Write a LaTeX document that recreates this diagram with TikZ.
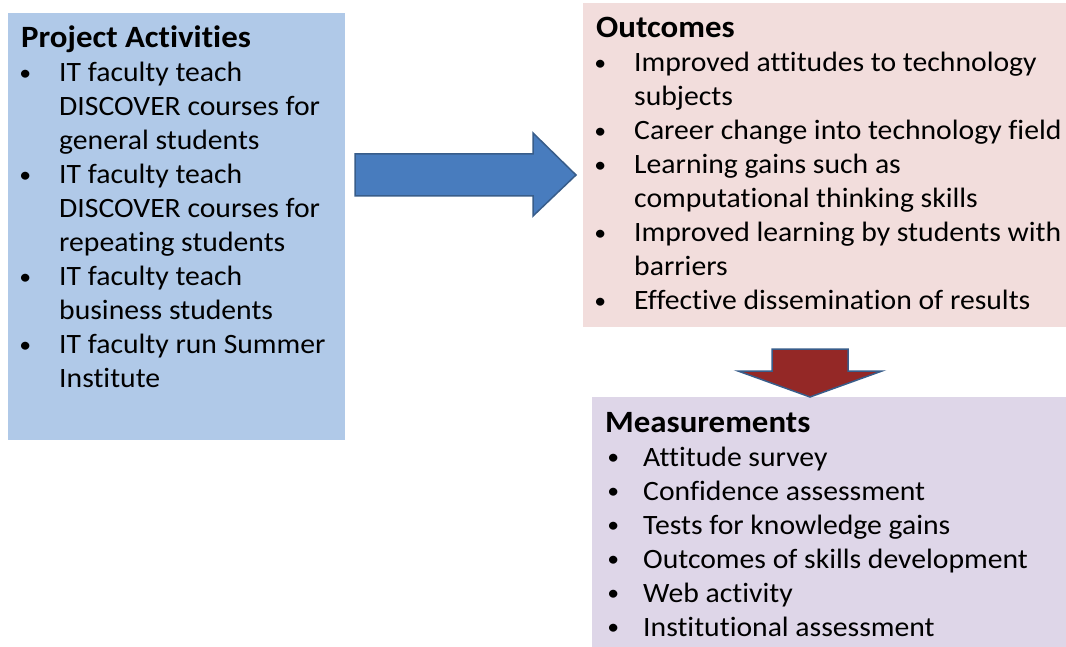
\documentclass[tikz,border=0pt]{standalone}
\usepackage{fontspec}
\setmainfont{Carlito}[Ligatures={NoCommon}, FakeStretch=1.06]
\definecolor{actblue}{RGB}{176,201,232}
\definecolor{outpink}{RGB}{242,221,220}
\definecolor{measlav}{RGB}{222,214,232}
\definecolor{arrblue}{RGB}{72,124,190}
\definecolor{arrline}{RGB}{56,93,138}
\definecolor{arrred}{RGB}{148,40,38}
\newlength\bulx
\newcommand\blt{\makebox[0pt]{\raisebox{1.2pt}{\scalebox{0.8}{•}}}}
\newcommand\itm[1]{\makebox[38pt][l]{\hspace*{\bulx}\blt}#1}
\newcommand\cnt[1]{\hspace*{38pt}#1}
\newcommand\ttl[1]{{\fontsize{31}{34}\selectfont\bfseries #1}}
\tikzset{
  panel/.style={draw=none, inner sep=0, anchor=north west},
  txt/.style={anchor=base west, inner sep=0, font=\fontsize{28}{34}\selectfont},
  blockarrow/.style={draw=arrline, line width=1.5pt, line join=miter}
}
\begin{document}
\begin{tikzpicture}[x=1pt,y=-1pt]
\useasboundingbox (0,0) rectangle (1066,647);
\fill[white] (0,0) rectangle (1066,647);
% panels
\node[panel, fill=actblue, minimum width=337pt, minimum height=427pt] (act) at (8,13) {};
\node[panel, fill=outpink, minimum width=483pt, minimum height=324pt] (out) at (583,3) {};
\node[panel, fill=measlav, minimum width=474pt, minimum height=250pt] (meas) at (592,397) {};
% texts
\node[txt] (acttxt) at (21,48) {\parbox[t]{330pt}{\setlength\bulx{4pt}%
\ttl{Project Activities}\\
\itm{IT faculty teach}\\
\cnt{DISCOVER courses for}\\
\cnt{general students}\\
\itm{IT faculty teach}\\
\cnt{DISCOVER courses for}\\
\cnt{repeating students}\\
\itm{IT faculty teach}\\
\cnt{business students}\\
\itm{IT faculty run Summer}\\
\cnt{Institute}}};
\node[txt] (outtxt) at (596,38) {\parbox[t]{470pt}{\setlength\bulx{4pt}%
\ttl{Outcomes}\\
\itm{Improved attitudes to technology}\\
\cnt{subjects}\\
\itm{Career change into technology field}\\
\itm{Learning gains such as}\\
\cnt{computational thinking skills}\\
\itm{Improved learning by students with}\\
\cnt{barriers}\\
\itm{Effective dissemination of results}}};
\node[txt] (meastxt) at (605,432) {\parbox[t]{460pt}{\setlength\bulx{8pt}%
\ttl{Measurements}\\
\itm{Attitude survey}\\
\itm{Confidence assessment}\\
\itm{Tests for knowledge gains}\\
\itm{Outcomes of skills development}\\
\itm{Web activity}\\
\itm{Institutional assessment}}};
% block arrows
\draw[blockarrow, fill=arrblue] (355,154) -- (533,154) -- (533,133) -- (576,175) -- (533,216) -- (533,196) -- (355,196) -- cycle;
\draw[blockarrow, fill=arrred] (772,349) -- (848,349) -- (848,371) -- (882,371) -- (810,397) -- (738,371) -- (772,371) -- cycle;
\end{tikzpicture}
\end{document}
